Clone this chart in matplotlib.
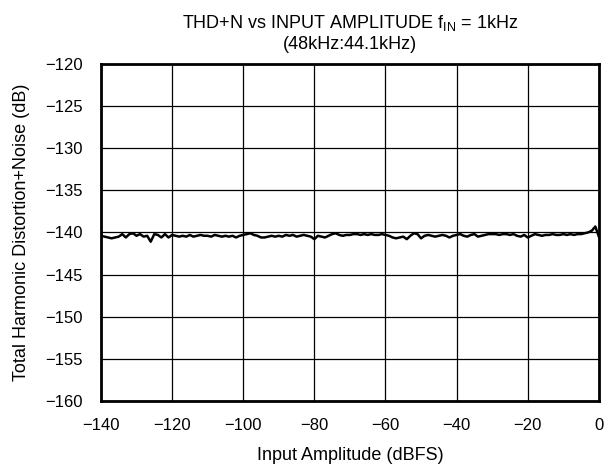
import numpy as np
import matplotlib.pyplot as plt

plt.rcParams['font.family'] = ['Liberation Sans', 'DejaVu Sans']
plt.rcParams['mathtext.fontset'] = 'custom'
plt.rcParams['mathtext.rm'] = 'Liberation Sans'
plt.rcParams['mathtext.it'] = 'Liberation Sans'

# input amplitude (dBFS), 1 dB steps
amp = np.arange(-140, 1, 1)
thdn = [
    -140.4, -140.5, -140.6, -140.7, -140.6, -140.5, -140.2, -140.6, -140.2, -140.1,
    -140.4, -140.2, -140.5, -140.4, -141.1, -140.2, -140.3, -140.6, -140.2, -140.6,
    -140.3, -140.4, -140.5, -140.4, -140.5, -140.3, -140.5, -140.4, -140.3, -140.4,
    -140.4, -140.5, -140.3, -140.4, -140.5, -140.4, -140.5, -140.4, -140.6, -140.4,
    -140.3, -140.2, -140.1, -140.3, -140.4, -140.6, -140.6, -140.5, -140.4, -140.5,
    -140.4, -140.5, -140.3, -140.4, -140.3, -140.5, -140.4, -140.3, -140.4, -140.5,
    -140.8, -140.4, -140.5, -140.6, -140.4, -140.2, -140.1, -140.3, -140.4, -140.3,
    -140.3, -140.2, -140.2, -140.3, -140.2, -140.3, -140.2, -140.3, -140.3, -140.2,
    -140.3, -140.4, -140.6, -140.7, -140.6, -140.5, -140.8, -140.4, -140.1, -140.2,
    -140.7, -140.4, -140.3, -140.4, -140.5, -140.4, -140.3, -140.4, -140.6, -140.4,
    -140.3, -140.2, -140.4, -140.5, -140.3, -140.2, -140.5, -140.4, -140.3, -140.2,
    -140.2, -140.2, -140.3, -140.2, -140.2, -140.3, -140.2, -140.4, -140.5, -140.3,
    -140.6, -140.4, -140.2, -140.3, -140.4, -140.3, -140.3, -140.2, -140.3, -140.3,
    -140.2, -140.3, -140.2, -140.3, -140.2, -140.2, -140.1, -140.0, -139.8, -139.3,
    -140.5,
]

fig = plt.figure(figsize=(6.08, 4.70), dpi=100)
ax = fig.add_axes([0.166, 0.147, 0.819, 0.717])

ax.plot(amp, thdn, color='black', lw=1.8, zorder=3)

ax.set_xlim(-140, 0)
ax.set_ylim(-160, -120)
ax.set_xticks(np.arange(-140, 1, 20))
ax.set_yticks(np.arange(-160, -119, 5))
ax.grid(True, color='black', lw=0.9)
ax.tick_params(length=0, labelsize=12)
ax.tick_params(axis='x', pad=12)
ax.tick_params(axis='y', pad=13)
for s in ax.spines.values():
    s.set_linewidth(2)

ax.set_xlabel('Input Amplitude (dBFS)', fontsize=13)
ax.set_ylabel('Total Harmonic Distortion+Noise (dB)', fontsize=13)
ax.xaxis.set_label_coords(0.5, -0.136)
ax.yaxis.set_label_coords(-0.142, 0.5)
ax.set_title('THD+N vs INPUT AMPLITUDE f$_{\\mathrm{IN}}$ = 1kHz\n(48kHz:44.1kHz)',
             fontsize=13, pad=11)

fig.savefig('out.png', dpi=100)
